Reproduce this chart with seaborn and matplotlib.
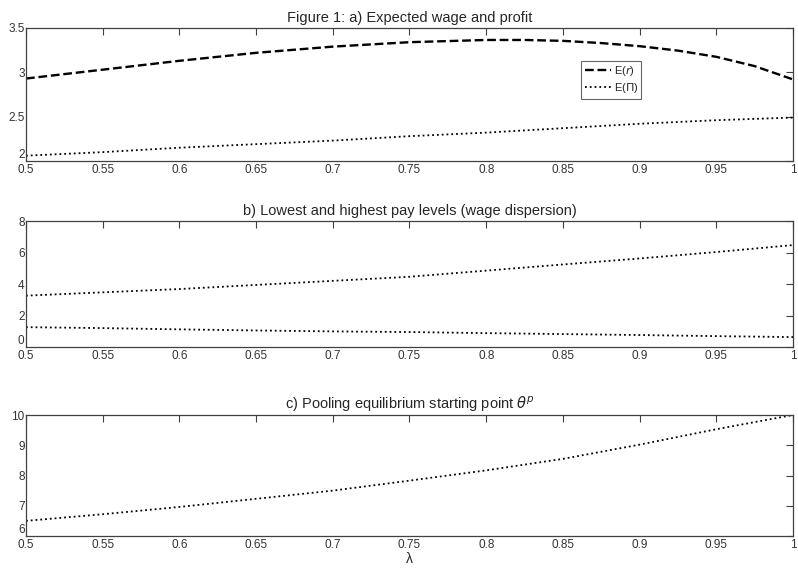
import pandas as pd
import numpy as np
import matplotlib
matplotlib.use('Agg')
import matplotlib.pyplot as plt
import seaborn as sns

# lambda grid
lam = [0.5, 0.55, 0.6, 0.65, 0.7, 0.75, 0.8, 0.85, 0.9, 0.95, 1.0]

# a) expected wage (read on a finer grid, it bends near the end) and profit
lam_wage = [0.5, 0.55, 0.6, 0.65, 0.7, 0.75, 0.8, 0.825, 0.85, 0.875, 0.9,
            0.925, 0.95, 0.975, 1.0]
exp_wage = [2.93, 3.03, 3.13, 3.22, 3.29, 3.34, 3.365, 3.365, 3.355, 3.33, 3.295,
            3.245, 3.175, 3.07, 2.92]
exp_profit = [2.06, 2.10, 2.15, 2.19, 2.23, 2.28, 2.32, 2.37, 2.42, 2.46, 2.49]

# b) lowest and highest pay levels
pay_high = [3.26, 3.47, 3.68, 3.94, 4.20, 4.46, 4.85, 5.24, 5.62, 6.03, 6.47]
pay_low = [1.26, 1.20, 1.12, 1.05, 0.99, 0.95, 0.88, 0.82, 0.76, 0.69, 0.63]

# c) pooling equilibrium starting point
theta_p = [6.50, 6.72, 6.96, 7.23, 7.50, 7.83, 8.17, 8.55, 9.02, 9.53, 10.0]

df = pd.DataFrame({'lam': lam, 'EPi': exp_profit,
                   'high': pay_high, 'low': pay_low, 'theta': theta_p})
df_wage = pd.DataFrame({'lam': lam_wage, 'Er': exp_wage})

sns.set_style('white')
plt.rcParams['font.family'] = ['Liberation Sans', 'DejaVu Sans']

fig = plt.figure(figsize=(7.98, 5.74), dpi=100)
W, H = 798, 574
left, right = 26, 793


def make_ax(top, bottom):
    ax = fig.add_axes([left / W, 1 - bottom / H, (right - left) / W, (bottom - top) / H])
    return ax


ax1 = make_ax(28, 161)
ax2 = make_ax(221, 347)
ax3 = make_ax(415, 536)

sns.lineplot(data=df_wage, x='lam', y='Er', ax=ax1, color='black', linestyle='--',
             linewidth=1.7, label='E($r$)')
sns.lineplot(data=df, x='lam', y='EPi', ax=ax1, color='black', linestyle=':',
             linewidth=1.3, label='E($\\Pi$)')
ax1.set_ylim(2, 3.5)
ax1.set_yticks([2, 2.5, 3, 3.5])
ax1.set_yticklabels(['2', '2.5', '3', '3.5'])
ax1.set_title('Figure 1: a) Expected wage and profit', fontsize=10.5, pad=4)
leg = ax1.legend(loc='upper left', bbox_to_anchor=(0.724, 0.755), fontsize=8,
                 frameon=True, fancybox=False, handlelength=2.4, handletextpad=0.2,
                 borderpad=0.3, labelspacing=0.3, borderaxespad=0)
leg.get_frame().set_edgecolor('#404040')
leg.get_frame().set_linewidth(0.8)

sns.lineplot(data=df, x='lam', y='high', ax=ax2, color='black', linestyle=':', linewidth=1.3)
sns.lineplot(data=df, x='lam', y='low', ax=ax2, color='black', linestyle=':', linewidth=1.3)
ax2.set_ylim(0, 8)
ax2.set_yticks([0, 2, 4, 6, 8])
ax2.set_title('b) Lowest and highest pay levels (wage dispersion)', fontsize=10.5, pad=4)

sns.lineplot(data=df, x='lam', y='theta', ax=ax3, color='black', linestyle=':', linewidth=1.3)
ax3.set_ylim(6, 10)
ax3.set_yticks([6, 7, 8, 9, 10])
ax3.set_title('c) Pooling equilibrium starting point $\\theta^p$', fontsize=10.5, pad=4)
ax3.set_xlabel('λ', fontsize=10, labelpad=1)

xt = [0.5, 0.55, 0.6, 0.65, 0.7, 0.75, 0.8, 0.85, 0.9, 0.95, 1]
xl = ['0.5', '0.55', '0.6', '0.65', '0.7', '0.75', '0.8', '0.85', '0.9', '0.95', '1']
for ax in (ax1, ax2, ax3):
    ax.set_xlim(0.5, 1)
    ax.set_xticks(xt)
    ax.set_xticklabels(xl)
    if ax is not ax3:
        ax.set_xlabel('')
    ax.set_ylabel('')
    ax.tick_params(direction='in', length=5, width=0.8, color='#404040',
                   labelsize=8.5, labelcolor='#333333', pad=1,
                   top=True, right=True)
    ax.tick_params(axis='x', pad=2)
    for s in ax.spines.values():
        s.set_color('#404040')
        s.set_linewidth(0.9)
    # nudge the lowest y label up a little so it clears the first x label
    ax.get_yticklabels()[0].set_verticalalignment('bottom')

fig.savefig('out.png', dpi=100)
